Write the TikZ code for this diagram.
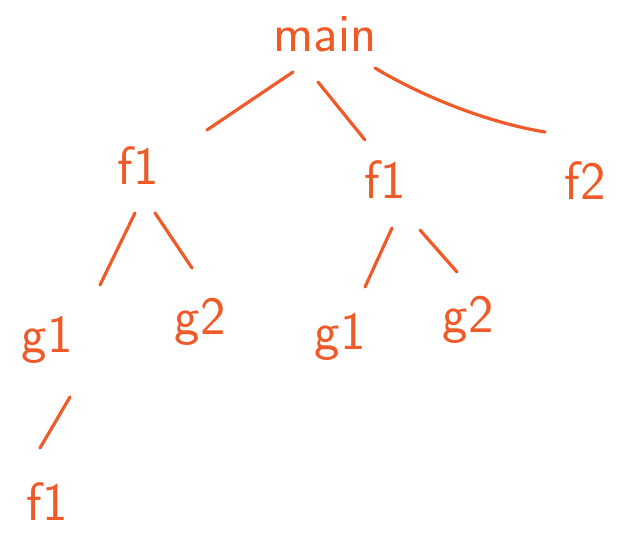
\documentclass[tikz,border=0pt]{standalone}
\usepackage{xcolor}
\usetikzlibrary{calc}
\definecolor{pen}{RGB}{238,90,40}

\tikzset{
    fn/.style={text=pen, font=\sffamily\fontsize{54}{58}\selectfont, inner sep=2pt},
    call/.style={draw=pen, line width=3.2pt, line cap=round},
}

\begin{document}
\begin{tikzpicture}[x=1pt, y=-1pt]
        \useasboundingbox (0,0) rectangle (623,534);

            \node[fn] (main) at (325,34) {main};
            \node[fn] (f1a) at (138,166) {f1};
            \node[fn] (f1b) at (385,180) {f1};
            \node[fn] (f2) at (585,181) {f2};
            \node[fn] (g1a) at (47,340) {g1};
            \node[fn] (g2a) at (200,322) {g2};
            \node[fn] (g1b) at (340,337) {g1};
            \node[fn] (g2b) at (468,320) {g2};
            \node[fn] (f1c) at (47,502) {f1};

            \draw[call] ($(main)+(-32,38)$) -- ($(f1a)+(69,-36)$);
            \draw[call] ($(main)+(-7,48)$) -- ($(f1b)+(-20,-40)$);
            \draw[call] ($(main)+(50,34)$) .. controls ($(main)+(100,64)$) and ($(f2)+(-95,-58)$) .. ($(f2)+(-40,-49)$);
            \draw[call] ($(f1a)+(-3,47)$) -- ($(g1a)+(53,-55)$);
            \draw[call] ($(f1a)+(17,47)$) -- ($(g2a)+(-8,-54)$);
            \draw[call] ($(f1b)+(7,48)$) -- ($(g1b)+(25,-50)$);
            \draw[call] ($(f1b)+(35,50)$) -- ($(g2b)+(-11,-48)$);
            \draw[call] ($(g1a)+(23,57)$) -- ($(f1c)+(-7,-54)$);

\end{tikzpicture}
\end{document}
